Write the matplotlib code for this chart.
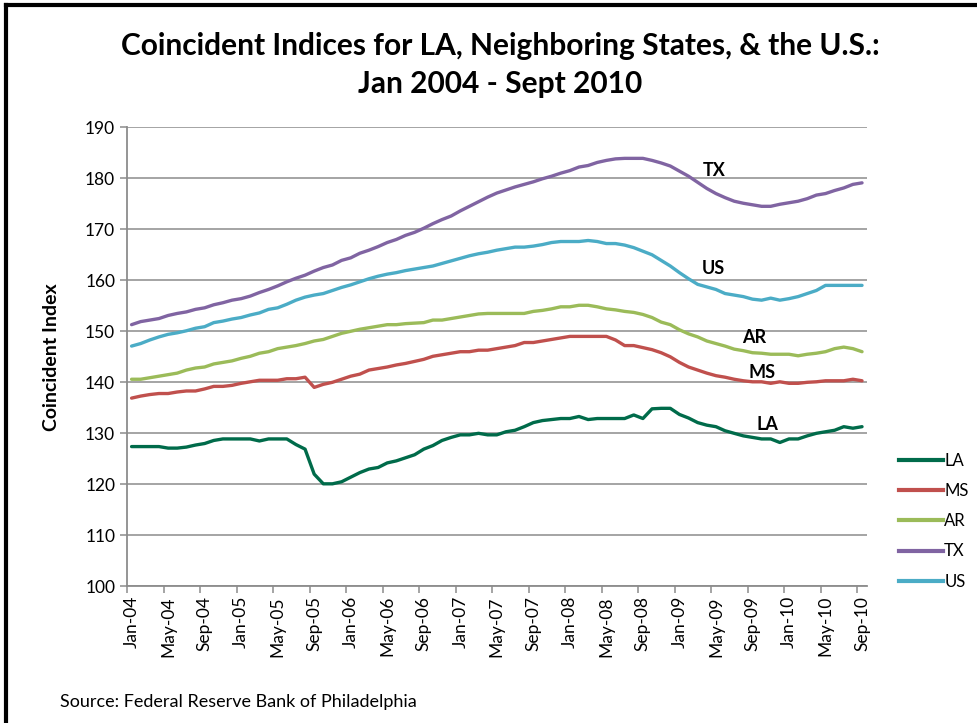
import numpy as np
import matplotlib
matplotlib.use("Agg")
import matplotlib.pyplot as plt
from matplotlib.lines import Line2D

plt.rcParams["font.family"] = ["Lato", "DejaVu Sans"]

# monthly, Jan-04 .. Sep-10
months = [f"{m}-{y:02d}" for y in range(4, 11)
          for m in ["Jan", "Feb", "Mar", "Apr", "May", "Jun",
                    "Jul", "Aug", "Sep", "Oct", "Nov", "Dec"]][:81]

la = [127.4, 127.4, 127.4, 127.4, 127.1, 127.1, 127.3, 127.7, 128.0, 128.6,
      128.9, 128.9, 128.9, 128.9, 128.5, 128.9, 128.9, 128.9, 127.8, 126.9,
      122.0, 120.1, 120.1, 120.5, 121.4, 122.3, 123.0, 123.3, 124.2, 124.6,
      125.2, 125.8, 126.9, 127.6, 128.6, 129.2, 129.7, 129.7, 130.0, 129.7,
      129.7, 130.3, 130.6, 131.3, 132.1, 132.5, 132.7, 132.9, 132.9, 133.3,
      132.7, 132.9, 132.9, 132.9, 132.9, 133.6, 132.9, 134.8, 134.9, 134.9,
      133.7, 133.0, 132.1, 131.6, 131.3, 130.5, 130.0, 129.5, 129.2, 128.9,
      128.9, 128.2, 128.9, 128.9, 129.5, 130.0, 130.3, 130.6, 131.3, 131.0,
      131.3]
ms = [136.9, 137.3, 137.6, 137.8, 137.8, 138.1, 138.3, 138.3, 138.7, 139.2,
      139.2, 139.4, 139.8, 140.1, 140.4, 140.4, 140.4, 140.7, 140.7, 141.0,
      139.0, 139.6, 140.0, 140.6, 141.2, 141.6, 142.4, 142.7, 143.0, 143.4,
      143.7, 144.1, 144.5, 145.1, 145.4, 145.7, 146.0, 146.0, 146.3, 146.3,
      146.6, 146.9, 147.2, 147.8, 147.8, 148.1, 148.4, 148.7, 149.0, 149.0,
      149.0, 149.0, 149.0, 148.3, 147.2, 147.2, 146.8, 146.4, 145.8, 145.0,
      143.9, 143.0, 142.4, 141.8, 141.3, 141.0, 140.6, 140.3, 140.1, 140.1,
      139.8, 140.1, 139.8, 139.8, 140.0, 140.1, 140.3, 140.3, 140.3, 140.6,
      140.3]
ar = [140.6, 140.6, 140.9, 141.2, 141.5, 141.8, 142.4, 142.8, 143.0, 143.6,
      143.9, 144.2, 144.7, 145.1, 145.7, 146.0, 146.6, 146.9, 147.2, 147.6,
      148.1, 148.4, 149.0, 149.6, 150.0, 150.4, 150.7, 151.0, 151.3, 151.3,
      151.5, 151.6, 151.7, 152.2, 152.2, 152.5, 152.8, 153.1, 153.4, 153.5,
      153.5, 153.5, 153.5, 153.5, 153.9, 154.1, 154.4, 154.8, 154.8, 155.1,
      155.1, 154.8, 154.4, 154.2, 153.9, 153.7, 153.3, 152.7, 151.8, 151.3,
      150.3, 149.5, 148.9, 148.1, 147.6, 147.1, 146.5, 146.2, 145.8, 145.7,
      145.5, 145.5, 145.5, 145.2, 145.5, 145.7, 146.0, 146.6, 146.9, 146.6,
      146.0]
tx = [151.3, 151.9, 152.2, 152.5, 153.1, 153.5, 153.8, 154.3, 154.6, 155.2,
      155.6, 156.1, 156.4, 156.9, 157.6, 158.2, 158.9, 159.7, 160.4, 161.0,
      161.8, 162.5, 163.0, 163.9, 164.4, 165.3, 165.9, 166.6, 167.4, 168.0,
      168.8, 169.4, 170.2, 171.1, 171.9, 172.6, 173.6, 174.5, 175.4, 176.3,
      177.1, 177.7, 178.3, 178.8, 179.3, 179.9, 180.4, 181.0, 181.5, 182.2,
      182.5, 183.1, 183.5, 183.8, 183.9, 183.9, 183.9, 183.5, 183.0, 182.4,
      181.4, 180.4, 179.2, 178.0, 177.0, 176.2, 175.5, 175.1, 174.8, 174.5,
      174.5, 174.9, 175.2, 175.5, 176.0, 176.7, 177.0, 177.6, 178.1, 178.8,
      179.1]
us = [147.1, 147.6, 148.3, 148.9, 149.4, 149.7, 150.1, 150.6, 150.9, 151.7,
      152.0, 152.4, 152.7, 153.2, 153.6, 154.3, 154.6, 155.3, 156.1, 156.7,
      157.1, 157.4, 158.0, 158.6, 159.1, 159.7, 160.3, 160.8, 161.2, 161.5,
      161.9, 162.2, 162.5, 162.8, 163.3, 163.8, 164.3, 164.8, 165.2, 165.5,
      165.9, 166.2, 166.5, 166.5, 166.7, 167.0, 167.4, 167.6, 167.6, 167.6,
      167.8, 167.6, 167.2, 167.2, 166.9, 166.4, 165.7, 165.0, 163.9, 162.8,
      161.5, 160.3, 159.2, 158.7, 158.2, 157.4, 157.1, 156.8, 156.3, 156.1,
      156.5, 156.1, 156.4, 156.8, 157.4, 158.0, 159.0, 159.0, 159.0, 159.0,
      159.0]

names = ["LA", "MS", "AR", "TX", "US"]
series = [la, ms, ar, tx, us]
colors = ["#006B4A", "#C0504D", "#9BBB59", "#8064A2", "#4BACC6"]
# inline label positions (month index, value)
label_pos = {"TX": (63.8, 181.6), "US": (63.7, 162.4), "AR": (68.2, 148.7),
             "MS": (69.0, 142.0), "LA": (69.6, 131.7)}

fig = plt.figure(figsize=(9.77, 7.23), dpi=100)
ax = fig.add_axes([0.130, 0.189, 0.757, 0.635])

x = np.arange(len(months))
for name, vals, c in zip(names, series, colors):
    ax.plot(x, vals, color=c, lw=2.4, solid_capstyle="round", label=name)
for name, (px, py) in label_pos.items():
    ax.text(px, py, name, fontsize=13, fontweight="bold", ha="center", va="center")

ax.set_xlim(-0.5, len(months) - 0.5)
ax.set_ylim(100, 190)
ax.set_yticks(np.arange(100, 191, 10))
ax.grid(axis="y", color="#8c8c8c", lw=1.1)
ax.set_axisbelow(True)

ax.set_xticks(x[::4])
ax.set_xticklabels(months[::4], rotation=90, fontsize=12.5)
ax.tick_params(axis="x", length=0, pad=7)
ax.set_xticks(np.arange(-0.5, len(months), 4), minor=True)
ax.tick_params(axis="x", which="minor", length=5, color="#8c8c8c", width=1.1)
ax.tick_params(axis="y", length=5, color="#8c8c8c", width=1.1, labelsize=12.5)

for s in ["top", "right"]:
    ax.spines[s].set_visible(False)
for s in ["left", "bottom"]:
    ax.spines[s].set_color("#8c8c8c")
    ax.spines[s].set_linewidth(1.3)

ax.set_ylabel("Coincident Index", fontsize=14, fontweight="bold", labelpad=18)

handles = [Line2D([], [], color=c, lw=3) for c in colors]
fig.legend(handles, names, loc="center left", bbox_to_anchor=(0.905, 0.279),
           frameon=False, fontsize=12, handlelength=2.6, handletextpad=0.1,
           labelspacing=0.85)

fig.text(0.512, 0.937, "Coincident Indices for LA, Neighboring States, & the U.S.:",
         ha="center", va="center", fontsize=21.5, fontweight="bold")
fig.text(0.512, 0.884, "Jan 2004 - Sept 2010", ha="center", va="center",
         fontsize=21.5, fontweight="bold")
fig.text(0.061, 0.022, "Source: Federal Reserve Bank of Philadelphia", fontsize=13)

# black frame at left and top
fig.add_artist(Line2D([0.006, 0.006], [0, 0.993], color="black", lw=3))
fig.add_artist(Line2D([0.006, 1.0], [0.993, 0.993], color="black", lw=3))

fig.savefig("out.png", dpi=100)
